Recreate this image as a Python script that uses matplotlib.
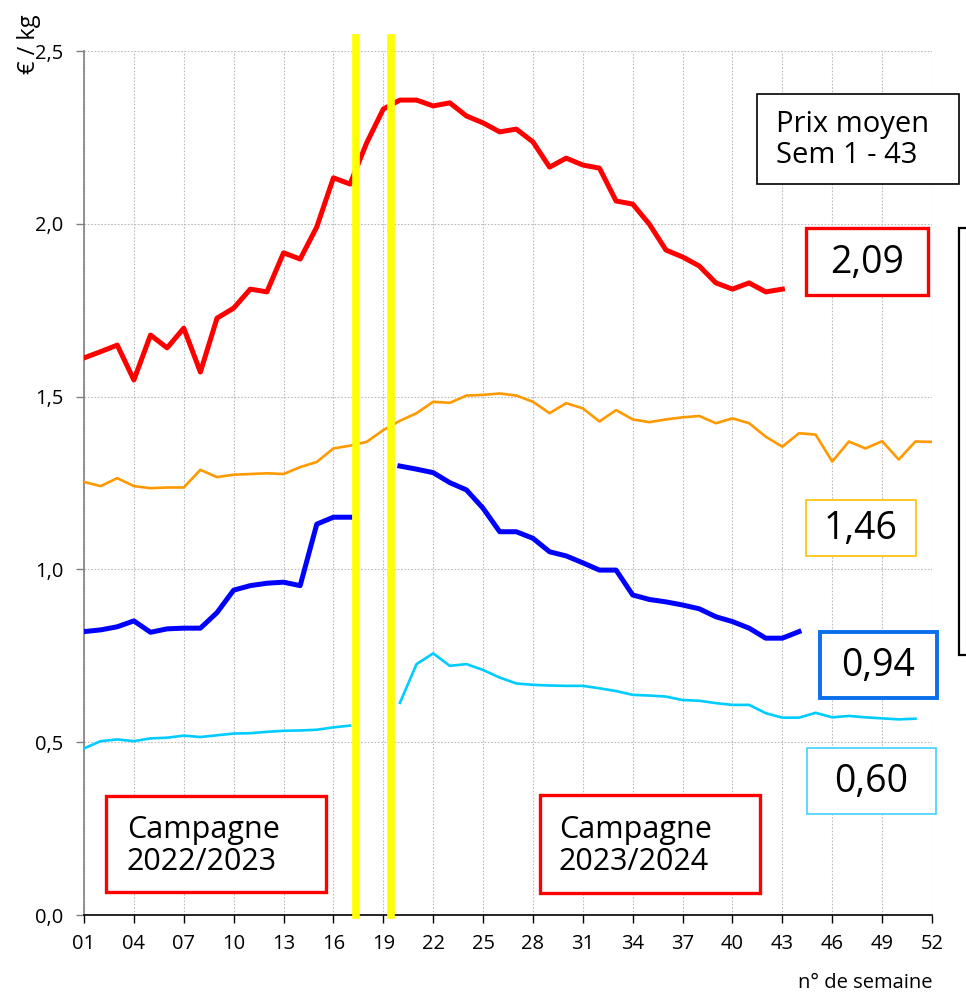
import numpy as np
import matplotlib.pyplot as plt
from matplotlib.patches import Rectangle

plt.rcParams['font.family'] = ['Open Sans', 'DejaVu Sans']

nan = np.nan
weeks = np.arange(1, 53)
tick_weeks = np.arange(1, 53, 3)
tick_labels = ['%02d' % w for w in tick_weeks]

# prix hebdo en €/kg (nan = pas de cotation)
rouge = [1.612, 1.630, 1.649, 1.548, 1.678, 1.641, 1.698, 1.571, 1.727, 1.756,
         1.811, 1.803, 1.916, 1.898, 1.991, 2.133, 2.115, 2.234, 2.332, 2.358,
         2.358, 2.341, 2.350, 2.312, 2.292, 2.266, 2.274, 2.237, 2.164, 2.190,
         2.170, 2.161, 2.066, 2.057, 1.999, 1.924, 1.904, 1.878, 1.829, 1.811,
         1.829, 1.803, 1.811] + [nan] * 9
orange = [1.253, 1.241, 1.264, 1.241, 1.235, 1.237, 1.237, 1.288, 1.267, 1.274,
          1.276, 1.278, 1.276, 1.296, 1.311, 1.350, 1.358, 1.369, 1.403, 1.430,
          1.452, 1.485, 1.482, 1.503, 1.505, 1.509, 1.503, 1.485, 1.452, 1.481,
          1.466, 1.428, 1.461, 1.434, 1.426, 1.434, 1.440, 1.444, 1.423, 1.437,
          1.423, 1.384, 1.355, 1.394, 1.390, 1.312, 1.370, 1.350, 1.371, 1.318,
          1.370, 1.369]
bleu = [0.820, 0.825, 0.834, 0.851, 0.818, 0.828, 0.830, 0.830, 0.875, 0.940,
        0.953, 0.960, 0.963, 0.953, 1.131, 1.151, 1.151, nan, nan, 1.299,
        1.290, 1.280, 1.251, 1.230, 1.177, 1.109, 1.109, 1.090, 1.051, 1.039,
        1.019, 0.998, 0.998, 0.926, 0.913, 0.906, 0.897, 0.886, 0.863, 0.849,
        0.830, 0.801, 0.801, 0.820] + [nan] * 8
cyan = [0.482, 0.503, 0.508, 0.503, 0.511, 0.513, 0.519, 0.515, 0.520, 0.525,
        0.526, 0.530, 0.533, 0.534, 0.536, 0.543, 0.548, nan, nan, 0.614,
        0.726, 0.757, 0.721, 0.726, 0.709, 0.687, 0.670, 0.666, 0.664, 0.663,
        0.663, 0.656, 0.648, 0.637, 0.635, 0.632, 0.622, 0.620, 0.613, 0.608,
        0.608, 0.584, 0.571, 0.571, 0.585, 0.572, 0.576, 0.572, 0.569, 0.566,
        0.568, nan]

moyennes = ['2,09', '1,46', '0,94', '0,60']
separations = [17.38, 19.48]   # changement de campagne

W, H = 966, 997
fig = plt.figure(figsize=(W / 100, H / 100), dpi=100)
ax = fig.add_axes([84 / W, 1 - 915 / H, (932 - 84) / W, (915 - 51) / H])

ax.plot(weeks, rouge, color='#FF0000', lw=3.6, solid_joinstyle='round', zorder=3)
ax.plot(weeks, orange, color='#FF9900', lw=1.9, solid_joinstyle='round', zorder=3)
ax.plot(weeks, bleu, color='#0000FF', lw=3.6, solid_joinstyle='round', zorder=3)
ax.plot(weeks, cyan, color='#00CCFF', lw=1.9, solid_joinstyle='round', zorder=3)

for s in separations:
    ax.axvline(s, ymin=0, ymax=1.015, color='#FFFF00', lw=5.5, clip_on=False, zorder=4)

ax.set_xlim(1, 52)
ax.set_ylim(0, 2.5)
ax.set_xticks(tick_weeks)
ax.set_xticklabels(tick_labels)
ax.set_yticks([0, 0.5, 1.0, 1.5, 2.0, 2.5])
ax.set_yticklabels(['0,0', '0,5', '1,0', '1,5', '2,0', '2,5'])
ax.tick_params(labelsize=14.5, length=6, width=1, color='#808080')
ax.tick_params(axis='y', pad=9)
ax.tick_params(axis='x', pad=8, colors='black')
ax.grid(True, color='#BBBBBB', linestyle=(0, (1.5, 1.5)), lw=0.8)
ax.set_axisbelow(True)
for sp in ['top', 'right']:
    ax.spines[sp].set_visible(False)
ax.spines['left'].set_color('#808080')
ax.spines['left'].set_linewidth(1.2)
ax.spines['bottom'].set_color('black')
ax.spines['bottom'].set_linewidth(1.2)

fig.text(29 / W, 1 - 44 / H, '€ / kg', rotation=90, fontsize=17, ha='center', va='center')
fig.text(932 / W, 1 - 983 / H, 'n° de semaine', fontsize=14.5, ha='right', va='center')


def boite(x0, y0, x1, y1, couleur, lw):
    fig.add_artist(Rectangle((x0 / W, 1 - y1 / H), (x1 - x0) / W, (y1 - y0) / H,
                             transform=fig.transFigure, fill=True, facecolor='white',
                             edgecolor=couleur, lw=lw, clip_on=False, zorder=5))


def texte(x, y, s, size, ha='center', ls=1.05):
    fig.text(x / W, 1 - y / H, s, fontsize=size, ha=ha, va='center',
             multialignment=ha, linespacing=ls, zorder=6)


boite(757, 94, 959, 184, 'black', 1.2)
texte(776, 140, 'Prix moyen\nSem 1 - 43', 21, ha='left')

cadres = [(806, 228, 928, 295, '#FF0000', 2.4),
          (806, 500, 916, 556, '#FFC000', 1.2),
          (820, 632, 937, 698, '#0A6FEB', 2.8),
          (807, 748, 936, 814, '#40D2FF', 1.2)]
for (x0, y0, x1, y1, c, lw), m in zip(cadres, moyennes):
    boite(x0, y0, x1, y1, c, lw)
    texte((x0 + x1) / 2, (y0 + y1) / 2 + 1, m, 27)

# cadre coupé à droite
boite(959, 228, 1010, 655, 'black', 1.6)

boite(106, 796, 326, 892, '#FF0000', 2.4)
texte(127, 846, 'Campagne\n2022/2023', 22, ha='left', ls=1.1)
boite(540, 795, 760, 893, '#FF0000', 2.4)
texte(559, 846, 'Campagne\n2023/2024', 22, ha='left', ls=1.1)

fig.savefig('out.png', dpi=100)
